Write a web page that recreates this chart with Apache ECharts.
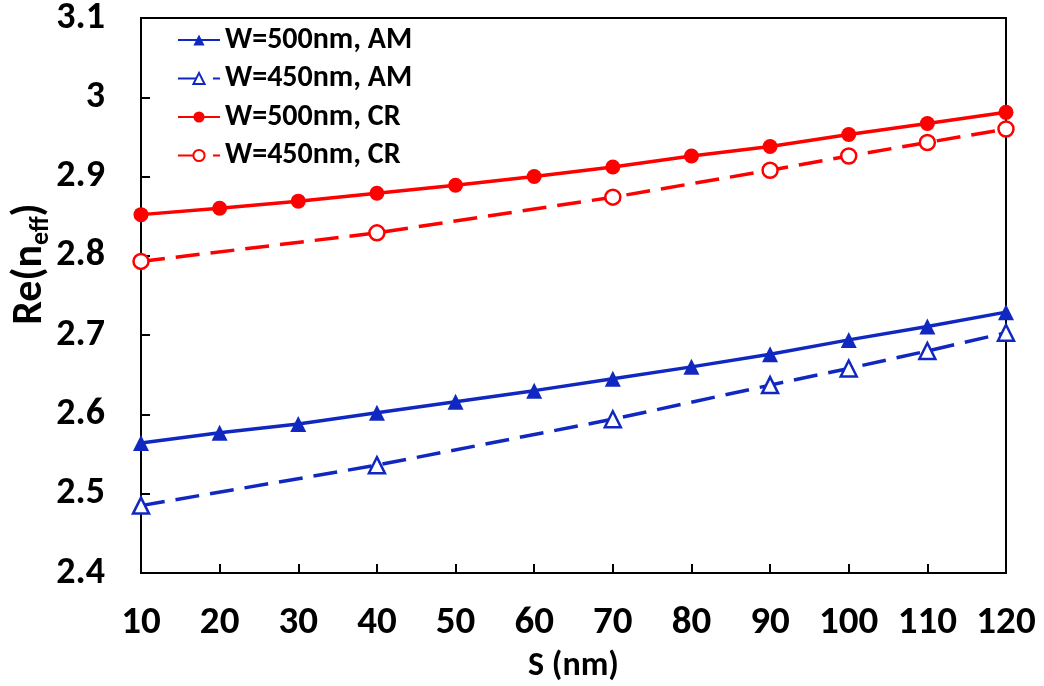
<!DOCTYPE html>
<html><head><meta charset="utf-8">
<script src="https://cdn.jsdelivr.net/npm/echarts@6/dist/echarts.min.js"></script>
<style>html,body{margin:0;padding:0;background:#fff}#c{width:1044px;height:686px}</style>
</head><body><div id="c"></div>
<script>
const xAll = [10,20,30,40,50,60,70,80,90,100,110,120];
const xSparse = [10,40,70,90,100,110,120];
const am500 = [2.564,2.577,2.588,2.602,2.616,2.630,2.645,2.660,2.676,2.694,2.711,2.729];
const am450 = [2.485,2.536,2.594,2.637,2.658,2.680,2.703];
const cr500 = [2.852,2.860,2.869,2.879,2.889,2.900,2.912,2.926,2.938,2.953,2.967,2.981];
const cr450 = [2.793,2.829,2.874,2.908,2.926,2.943,2.960];
const names = ['W=500nm, AM','W=450nm, AM','W=500nm, CR','W=450nm, CR'];
const yTitle = '{a|Re(n}{b|eff}{a|)}';
const blue = '#1028C0', red = '#FF0000';
const FONT = 'Carlito, Lato, sans-serif';
const pairs = (xs, ys) => xs.map((x,i)=>[x, ys[i]]);
function ser(name, xs, ys, color, sym, filled, dashed){
  return {name, type:'line', data:pairs(xs,ys), symbol:sym, symbolSize: sym==='triangle'?16:15,
    lineStyle:{color, width:3.5, type: dashed?[24,11]:'solid'},
    itemStyle:{color: filled?color:'#fff', borderColor:color, borderWidth: filled?0:2.5},
    emphasis:{disabled:true}, z: filled?3:2};
}
const chart = echarts.init(document.getElementById('c'));
chart.setOption({
  animation:false,
  backgroundColor:'#fff',
  grid:{left:141,right:38,top:18,bottom:113,containLabel:false,outerBoundsMode:'none',
    show:true,borderColor:'#000',borderWidth:2,backgroundColor:'transparent'},
  legend:{left:172,top:20,orient:'vertical',itemGap:8.5,itemWidth:42,itemHeight:14,
    textStyle:{fontFamily:FONT,fontWeight:'bold',fontSize:30,color:'#000'},
    data:names},
  graphic:[{type:'text',x:30,y:264,rotation:Math.PI/2,silent:true,
    style:{text:yTitle,align:'center',verticalAlign:'middle',fill:'#000',
      rich:{a:{fontFamily:FONT,fontWeight:'bold',fontSize:42,fill:'#000',color:'#000'},
        b:{fontFamily:FONT,fontWeight:'bold',fontSize:26,fill:'#000',color:'#000',verticalAlign:'bottom',padding:[22,0,0,0]}}}}],
  xAxis:{type:'value',min:10,max:120,interval:10,
    name:'S (nm)',nameLocation:'middle',nameGap:76,
    nameTextStyle:{fontFamily:FONT,fontWeight:'bold',fontSize:34,color:'#000'},
    axisLine:{lineStyle:{color:'#000',width:2}},
    axisTick:{inside:true,length:9,lineStyle:{color:'#000',width:2}},
    axisLabel:{margin:31,fontFamily:FONT,fontWeight:'bold',fontSize:39,color:'#000'},
    splitLine:{show:false}},
  yAxis:{type:'value',min:2.4,max:3.1,interval:0.1,
    axisLine:{lineStyle:{color:'#000',width:2}},
    axisTick:{inside:true,length:9,lineStyle:{color:'#000',width:2}},
    axisLabel:{margin:36,fontFamily:FONT,fontWeight:'bold',fontSize:38,color:'#000',
      formatter:v=>String(Math.round(v*10)/10)},
    splitLine:{show:false}},
  series:[
    ser(names[0], xAll, am500, blue, 'triangle', true, false),
    ser(names[1], xSparse, am450, blue, 'triangle', false, true),
    ser(names[2], xAll, cr500, red, 'circle', true, false),
    ser(names[3], xSparse, cr450, red, 'circle', false, true)
  ]
});
</script></body></html>
